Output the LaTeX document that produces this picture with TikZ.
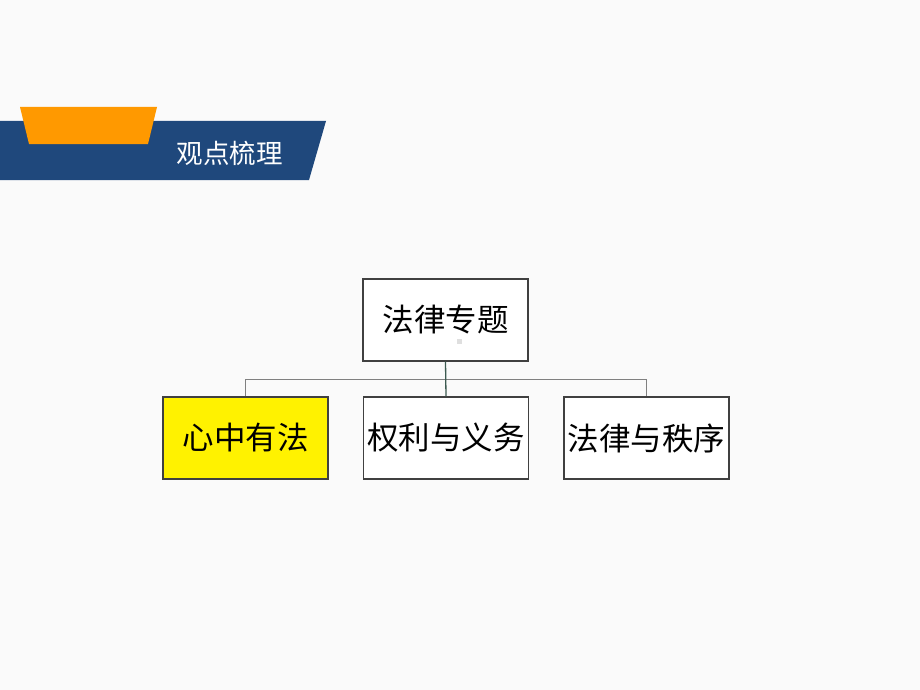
\documentclass[tikz,border=0pt]{standalone}
\usepackage{fontspec}
\usepackage{tikz}
\newfontfamily\cjk{Noto Sans CJK SC}
\definecolor{bannerblue}{RGB}{31,72,124}
\definecolor{bannerorange}{RGB}{255,153,0}
\definecolor{pagebg}{RGB}{250,250,250}
\definecolor{boxline}{RGB}{64,64,64}
\definecolor{busline}{RGB}{128,128,128}
\definecolor{stemline}{RGB}{60,90,80}

\begin{document}
\begin{tikzpicture}[x=1pt,y=-1pt,
  topic/.style={draw=boxline,line width=1.2pt,fill=white,minimum width=165pt,minimum height=82pt,
    inner sep=0pt,font=\cjk\fontsize{31.5}{36}\selectfont},
  bus/.style={draw=busline,line width=1pt}]
\fill[pagebg] (0,0) rectangle (920,690);
\useasboundingbox (0,0) rectangle (920,690);
\fill[bannerblue] (0,121) -- (326,121) -- (309,180) -- (0,180) -- cycle;
\fill[bannerorange] (20,107) -- (157,107) -- (148,144) -- (29,144) -- cycle;
\node[text=white,font=\cjk\fontsize{26.5}{30}\selectfont] (title) at (229.5,153) {观点梳理};
\node[topic] (law) at (445.5,320) {法律专题};
\node[topic,fill=yellow] (heart) at (245.5,438) {心中有法};
\node[topic] (rights) at (446,438) {权利与义务};
\node[topic] (order) at (646.5,438) {法律与秩序};
\fill[gray!25] (457,339) rectangle (462,344);
\draw[bus] (heart.north) -- ++(0,-17) coordinate (busl) -| (order.north);
\draw[draw=stemline,line width=1.3pt] (law.south) -- (rights.north);
\end{tikzpicture}
\end{document}
